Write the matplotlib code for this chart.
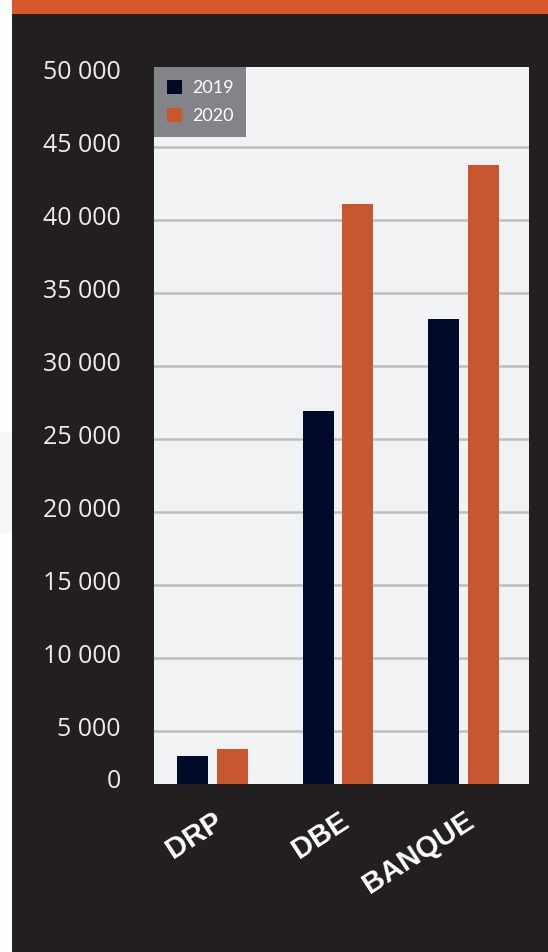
import numpy as np
import matplotlib.pyplot as plt
from matplotlib.patches import Rectangle
from matplotlib.transforms import ScaledTranslation

categories = ['DRP', 'DBE', 'BANQUE']
years = ['2019', '2020']
values_2019 = [3300, 26900, 33200]
values_2020 = [3800, 41100, 43800]
tick_values = [5000, 10000, 15000, 20000, 25000, 30000, 35000, 40000, 45000, 50000]
tick_labels = ['5 000', '10 000', '15 000', '20 000', '25 000',
               '30 000', '35 000', '40 000', '45 000', '50 000']

BG = '#231f20'
PANEL = '#f1f2f4'
NAVY = '#020a2a'
ORANGE = '#c85730'
BAND = '#d9572a'
GRID = '#bdbec0'
TXT = '#ececec'

W, H = 548, 952
fig = plt.figure(figsize=(W / 100, H / 100), dpi=100, facecolor=BG)

# page furniture: white margin on the left and orange band on top
fig.patches.append(Rectangle((0, 0), 12 / W, 1, transform=fig.transFigure,
                             facecolor='white', edgecolor='none', zorder=0))
fig.patches.append(Rectangle((0, (H - 533) / H), 12 / W, 101 / H, transform=fig.transFigure,
                             facecolor='#f6f6f6', edgecolor='none', zorder=0))
fig.patches.append(Rectangle((12 / W, 1 - 14 / H), 1, 14 / H, transform=fig.transFigure,
                             facecolor=BAND, edgecolor='none', zorder=0))

ax = fig.add_axes([154 / W, (H - 784) / H, 375 / W, 717 / H])
ax.set_facecolor(PANEL)

x = np.arange(len(categories))
off = 0.159
bw = 0.247
ax.bar(x - off, values_2019, bw, color=NAVY, label=years[0], zorder=3)
ax.bar(x + off, values_2020, bw, color=ORANGE, label=years[1], zorder=3)

ax.set_xlim(-0.466, 2.522)
ymin, ymax = 1370, 50480
ax.set_ylim(ymin, ymax)

for v in tick_values[:-1]:
    ax.axhline(v, color=GRID, lw=1.8, zorder=1)

for s in ax.spines.values():
    s.set_visible(False)

# y labels sit a little above their gridlines
ax.set_yticks([ymin] + tick_values)
ax.set_yticklabels(['0'] + tick_labels)
ax.tick_params(axis='y', length=0, pad=24, labelsize=18, labelcolor=TXT)
shift = ScaledTranslation(0, 5 / 100, fig.dpi_scale_trans)
for lab in ax.get_yticklabels():
    lab.set_fontfamily('Open Sans')
    lab.set_transform(lab.get_transform() + shift)

ax.set_xticks(x)
ax.set_xticklabels(categories)
ax.tick_params(axis='x', length=0, pad=25, labelcolor='white')
xshift = ScaledTranslation(8 / 100, 0, fig.dpi_scale_trans)
for lab in ax.get_xticklabels():
    lab.set_fontfamily('Liberation Sans')
    lab.set_fontweight('bold')
    lab.set_fontsize(21)
    lab.set_rotation(33)
    lab.set_rotation_mode('anchor')
    lab.set_ha('right')
    lab.set_va('center')
    lab.set_transform(lab.get_transform() + xshift)

leg = ax.legend(loc='upper left', bbox_to_anchor=(0, 1), borderaxespad=0,
                frameon=True, fancybox=False, framealpha=1,
                facecolor='#838487', edgecolor='none',
                prop={'family': 'Lato', 'size': 13},
                handlelength=0.85, handleheight=0.85, handletextpad=0.55,
                labelspacing=0.65, borderpad=0.7)
for t in leg.get_texts():
    t.set_color('white')

fig.savefig('out.png', dpi=100, facecolor=BG)
